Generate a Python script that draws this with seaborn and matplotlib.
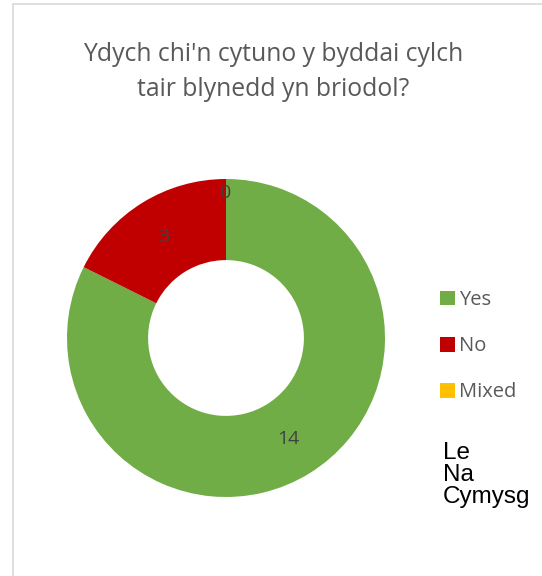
import matplotlib
matplotlib.use("Agg")
import matplotlib.pyplot as plt
import seaborn as sns
import numpy as np
from matplotlib.patches import Patch
from matplotlib.lines import Line2D

sns.set_theme(style="white")
plt.rcParams['font.family'] = ['Open Sans', 'DejaVu Sans']

# data
title = "Ydych chi'n cytuno y byddai cylch\ntair blynedd yn briodol?"
categories = ["Yes", "No", "Mixed"]
values = [14, 3, 0]
colors = ["#70AD47", "#C00000", "#FFC000"]
extra_lines = ["Le", "Na", "Cymysg"]

W, H = 542, 576
fig = plt.figure(figsize=(W / 100, H / 100), dpi=100)

# chart frame (only left and top edges visible)
fig.add_artist(Line2D([12.5 / W, 12.5 / W], [0, 1 - 3.5 / H], color="#D9D9D9", lw=1.2))
fig.add_artist(Line2D([12.5 / W, 1], [1 - 3.5 / H, 1 - 3.5 / H], color="#D9D9D9", lw=1.2))

fig.text(273 / W, 1 - 72 / H, title, ha="center", va="center", fontsize=17.8,
         color="#595959", linespacing=1.55)

cx, cy, r = 226, 338, 159
ax = fig.add_axes([(cx - r) / W, 1 - (cy + r) / H, 2 * r / W, 2 * r / H])
wedges, _ = ax.pie(values, colors=colors, startangle=90, counterclock=False,
                   radius=1, wedgeprops=dict(width=0.51, edgecolor="none"))
ax.set_xlim(-1, 1)
ax.set_ylim(-1, 1)
ax.set_aspect("equal")
ax.axis("off")

for w, v in zip(wedges, values):
    ang = np.deg2rad((w.theta1 + w.theta2) / 2)
    rr = 0.75 if v > 0 else 0.91
    ax.text(rr * np.cos(ang), rr * np.sin(ang), str(v), ha="center", va="center",
            fontsize=14, color="#404040", zorder=5)

handles = [Patch(facecolor=c, edgecolor="none") for c in colors]
fig.legend(handles, categories, loc="upper left", bbox_to_anchor=(440 / W, 1 - 290 / H),
           frameon=False, fontsize=14.5, labelcolor="#595959", handlelength=0.75,
           handleheight=0.75, handletextpad=0.2, labelspacing=1.3, borderaxespad=0,
           borderpad=0)

fig.text(443 / W, 1 - 475 / H, "\n".join(extra_lines), ha="left", va="center",
         fontsize=17.5, color="black", family=["Liberation Sans", "DejaVu Sans"],
         linespacing=0.98)

fig.savefig("out.png", dpi=100)
